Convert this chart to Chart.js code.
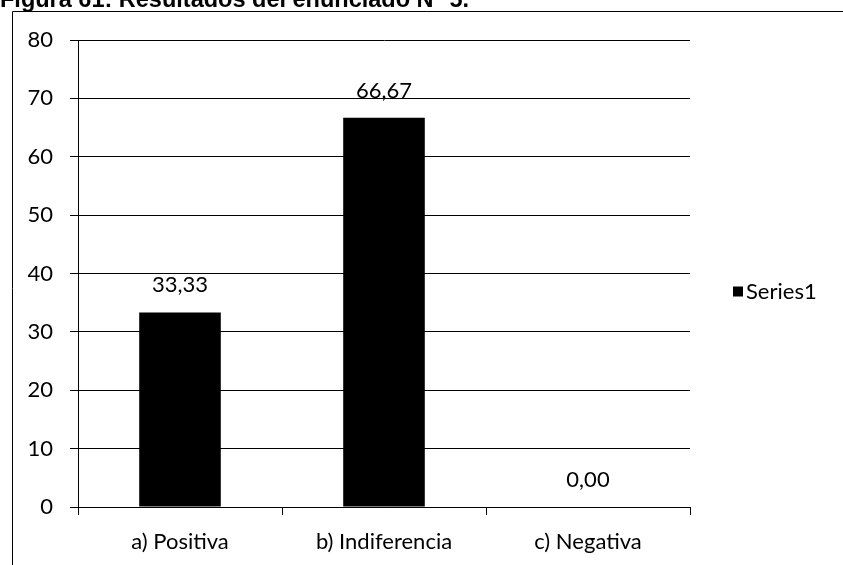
<!DOCTYPE html>
<html><head><meta charset="utf-8">
<script src="https://cdn.jsdelivr.net/npm/chart.js@4"></script>
<style>html,body{margin:0;padding:0;background:#fff}#wrap{width:843px;height:565px;position:relative}</style>
</head><body><div id="wrap"><canvas id="c" width="843" height="565"></canvas></div>
<script>
const categories = ['a) Positiva', 'b) Indiferencia', 'c) Negativa'];
const values = [33.33, 66.67, 0.00];
const seriesName = 'Series1';
const yMin = 0, yMax = 80, yStep = 10;
const titleText = 'Figura 61: Resultados del enunciado N° 5.';

const FONT = 'Lato, Carlito, sans-serif';
const FS = 22;
const fmt = v => v.toFixed(2).replace('.', ',');

const framePlugin = {
  id: 'frame',
  beforeDraw(chart) {
    const ctx = chart.ctx;
    ctx.save();
    ctx.fillStyle = '#fff';
    ctx.fillRect(0, 0, chart.width, chart.height);
    ctx.strokeStyle = '#000';
    ctx.lineWidth = 1;
    ctx.beginPath();
    ctx.moveTo(12.5, chart.height);
    ctx.lineTo(12.5, 11.5);
    ctx.lineTo(chart.width, 11.5);
    ctx.stroke();
    ctx.fillStyle = '#000';
    ctx.font = 'bold 23.5px "Liberation Sans", Arial, sans-serif';
    ctx.textBaseline = 'alphabetic';
    ctx.textAlign = 'left';
    ctx.fillText(titleText, 0, 7);
    ctx.restore();
  }
};

const labelPlugin = {
  id: 'valueLabels',
  afterDatasetsDraw(chart) {
    const ctx = chart.ctx;
    ctx.save();
    ctx.fillStyle = '#000';
    ctx.font = FS + 'px ' + FONT;
    ctx.textAlign = 'center';
    ctx.textBaseline = 'alphabetic';
    chart.data.datasets.forEach((ds, di) => {
      chart.getDatasetMeta(di).data.forEach((bar, i) => {
        ctx.fillText(fmt(ds.data[i]), bar.x, bar.y - 20);
      });
    });
    ctx.restore();
  }
};

const legendPlugin = {
  id: 'sideLegend',
  afterDraw(chart) {
    const ctx = chart.ctx, a = chart.chartArea;
    const cy = (a.top + a.bottom) / 2 + 18;
    const x = a.right + 43;
    ctx.save();
    chart.data.datasets.forEach(ds => {
      ctx.fillStyle = ds.backgroundColor;
      ctx.fillRect(x, cy - 5, 10, 10);
      ctx.fillStyle = '#000';
      ctx.font = FS + 'px ' + FONT;
      ctx.textBaseline = 'middle';
      ctx.textAlign = 'left';
      ctx.fillText(ds.label, x + 13, cy);
    });
    ctx.restore();
  }
};

new Chart(document.getElementById('c'), {
  type: 'bar',
  data: {
    labels: categories,
    datasets: [{
      label: seriesName,
      data: values,
      backgroundColor: '#000',
      borderWidth: 0,
      barPercentage: 0.4,
      categoryPercentage: 1.0
    }]
  },
  options: {
    responsive: false,
    devicePixelRatio: 1,
    animation: false,
    layout: { padding: { top: 40, left: 0, right: 153, bottom: 0 } },
    plugins: { legend: { display: false }, tooltip: { enabled: false }, title: { display: false } },
    scales: {
      x: {
        grid: { display: true, drawOnChartArea: false, drawTicks: true, tickLength: 8, color: '#000', offset: true },
        border: { display: true, color: '#000', width: 1 },
        ticks: { color: '#000', font: { family: FONT, size: FS }, padding: 14, maxRotation: 0 },
        afterFit(s) { s.height = 58; }
      },
      y: {
        min: yMin, max: yMax,
        grid: { color: '#000', lineWidth: 1, tickLength: 8, drawTicks: true },
        border: { display: true, color: '#000', width: 1 },
        ticks: { stepSize: yStep, color: '#000', font: { family: FONT, size: FS }, padding: 17 },
        afterFit(s) { s.width = 78; }
      }
    }
  },
  plugins: [framePlugin, labelPlugin, legendPlugin]
});
</script>
</body></html>
